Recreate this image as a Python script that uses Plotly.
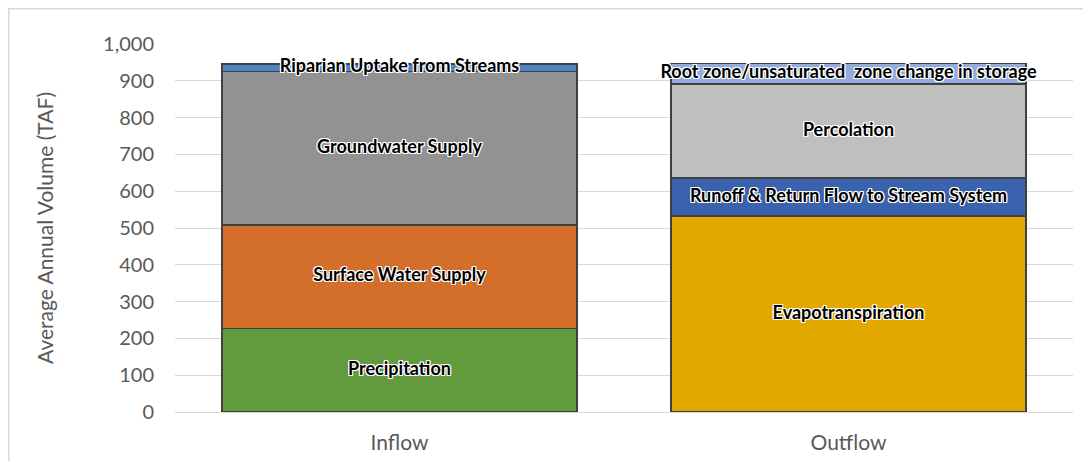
import numpy as np
import plotly.graph_objects as go

categories = ["Inflow", "Outflow"]

inflow_labels = ["Precipitation", "Surface Water Supply", "Groundwater Supply", "Riparian Uptake from Streams"]
inflow_values = [227, 281, 417, 20]
inflow_colors = ["#629a3e", "#d46e2b", "#929292", "#4a86c8"]

outflow_labels = ["Evapotranspiration", "Runoff & Return Flow to Stream System", "Percolation",
                  "Root zone/unsaturated  zone change in storage"]
outflow_values = [532, 104, 255, 56]
outflow_colors = ["#e2a800", "#3a62ad", "#bfbfbf", "#94acdc"]

y_ticks = list(range(0, 1001, 100))

FONT = "Lato, 'Open Sans', sans-serif"
SHADOW = ("1px 1px 0 white, -1px -1px 0 white, 1px -1px 0 white, -1px 1px 0 white, "
          "0 1px 0 white, 0 -1px 0 white, 1px 0 0 white, -1px 0 0 white")

W, H = 1083, 453
L, R, T, B = 167, 18, 36, 49
PW, PH = W - L - R, H - T - B

fig = go.Figure()

for cat, labels, values, colors in [
    (categories[0], inflow_labels, inflow_values, inflow_colors),
    (categories[1], outflow_labels, outflow_values, outflow_colors),
]:
    for lab, val, col in zip(labels, values, colors):
        fig.add_trace(go.Bar(
            x=[cat], y=[val], name=lab, marker=dict(color=col, line=dict(color="#404040", width=1.5)),
            showlegend=False, hoverinfo="name+y",
        ))
    cum = np.cumsum(values)
    mids = cum - np.array(values) / 2
    fig.add_trace(go.Scatter(
        x=[cat] * len(labels), y=mids, mode="text", text=labels,
        textfont=dict(family=FONT, size=18, color="black", weight="bold", shadow=SHADOW),
        textposition="middle center", showlegend=False, hoverinfo="skip", cliponaxis=False,
    ))

fig.update_layout(
    barmode="stack",
    bargap=0.21,
    width=W, height=H,
    margin=dict(l=L, r=R, t=T, b=B, autoexpand=False),
    paper_bgcolor="white", plot_bgcolor="white",
    font=dict(family=FONT, color="#595959"),
    xaxis=dict(categoryorder="array", categoryarray=categories, showgrid=False, zeroline=False,
               showline=False, ticks="", tickfont=dict(size=21, color="#595959"),
               ticklabelstandoff=16, automargin=False),
    yaxis=dict(range=[0, 1000], tickvals=y_ticks, tickformat=",", showgrid=True, gridcolor="#d9d9d9",
               gridwidth=1.2, zeroline=True, zerolinecolor="#d9d9d9", zerolinewidth=1.2, showline=False,
               ticks="", tickfont=dict(size=20, color="#595959"), ticklabelstandoff=20, automargin=False,
               title=dict(text="Average Annual Volume (TAF)", font=dict(size=21, color="#595959"),
                          standoff=43)),
)

# chart border (light gray frame, cropped at right and bottom)
fig.add_shape(type="line", xref="paper", yref="paper",
              x0=-L / PW, x1=(W - L + 10) / PW, y0=(PH + T - 0.8) / PH, y1=(PH + T - 0.8) / PH,
              line=dict(color="#d9d9d9", width=1.5))
fig.add_shape(type="line", xref="paper", yref="paper",
              x0=(-L + 0.8) / PW, x1=(-L + 0.8) / PW, y0=(PH + T) / PH, y1=-(B + 10) / PH,
              line=dict(color="#d9d9d9", width=1.5))

fig.write_html("out.html")
